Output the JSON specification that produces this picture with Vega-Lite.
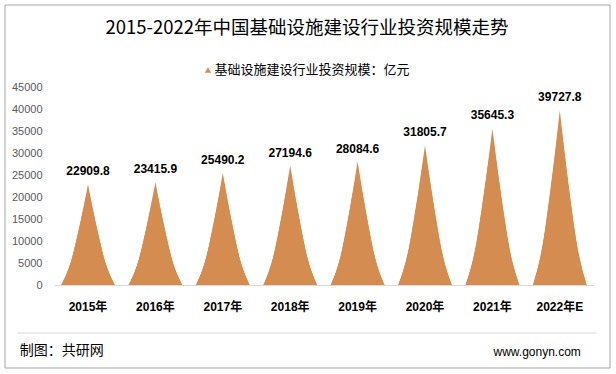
{
  "$schema": "https://vega.github.io/schema/vega-lite/v6.json",
  "width": 605,
  "height": 363,
  "autosize": "none",
  "padding": {"left": 4.5, "top": 4.5, "right": 6.5, "bottom": 6.5},
  "background": "white",
  "config": {
    "view": {"stroke": "#A6A6A6", "strokeWidth": 1},
    "axis": {"grid": false},
    "line": {"interpolate": "linear", "strokeWidth": 0, "stroke": null, "fill": "#D58C50"}
  },
  "title": {
    "text": "2015-2022年中国基础设施建设行业投资规模走势",
    "orient": "top",
    "anchor": "middle",
    "frame": "group",
    "baseline": "alphabetic",
    "offset": -47.5,
    "font": "Noto Sans CJK SC",
    "fontSize": 18.5,
    "fontWeight": "normal",
    "color": "#000000"
  },
  "data": {
    "values": [
      {"year": "2015年", "value": 22909.8},
      {"year": "2016年", "value": 23415.9},
      {"year": "2017年", "value": 25490.2},
      {"year": "2018年", "value": 27194.6},
      {"year": "2019年", "value": 28084.6},
      {"year": "2020年", "value": 31805.7},
      {"year": "2021年", "value": 35645.3},
      {"year": "2022年E", "value": 39727.8}
    ]
  },
  "transform": [
    {"fold": ["value"], "as": ["pt", "v"]},
    {"impute": "v", "key": "pt", "keyvals": ["a", "value", "z"], "groupby": ["year"], "value": 0}
  ],
  "encoding": {
    "x": {
      "field": "year", "type": "ordinal",
      "scale": {"type": "band", "range": [49.8, 589], "paddingInner": 0, "paddingOuter": 0},
      "axis": {
        "orient": "bottom", "offset": -82.5,
        "domainColor": "#D9D9D9", "ticks": false,
        "labelAngle": 0, "labelPadding": 16, "labelFontSize": 12, "labelFontWeight": "bold",
        "labelFont": "Liberation Sans, Noto Sans CJK SC", "labelColor": "#000000",
        "title": "制图：共研网", "titleX": 14.8, "titleY": 65, "titleAlign": "left",
        "titleBaseline": "middle", "titleFontSize": 14, "titleFontWeight": "normal",
        "titleFont": "Noto Sans CJK SC", "titleColor": "#000000"
      }
    }
  },
  "layer": [
    {
      "mark": {"type": "line"},
      "encoding": {
        "xOffset": {"field": "pt", "type": "nominal", "scale": {"type": "point", "domain": ["a", "value", "z"], "range": [6.7, 60.7], "padding": 0}},
        "y": {"field": "v", "type": "quantitative", "stack": null, "scale": {"domain": [0, 90000], "range": [280.5, 82.8], "nice": false}, "axis": null},
        "detail": {"field": "year"},
        "order": {"field": "pt", "type": "ordinal"}
      }
    },
    {
      "mark": {"type": "line"},
      "encoding": {
        "xOffset": {"field": "pt", "type": "nominal", "scale": {"type": "point", "domain": ["a", "value", "z"], "range": [7.24, 60.16], "padding": 0}},
        "y": {"field": "v", "type": "quantitative", "stack": null, "scale": {"domain": [0, 76531], "range": [280.5, 82.8], "nice": false}, "axis": null},
        "detail": {"field": "year"},
        "order": {"field": "pt", "type": "ordinal"}
      }
    },
    {
      "mark": {"type": "line"},
      "encoding": {
        "xOffset": {"field": "pt", "type": "nominal", "scale": {"type": "point", "domain": ["a", "value", "z"], "range": [8.18, 59.22], "padding": 0}},
        "y": {"field": "v", "type": "quantitative", "stack": null, "scale": {"domain": [0, 65502], "range": [280.5, 82.8], "nice": false}, "axis": null},
        "detail": {"field": "year"},
        "order": {"field": "pt", "type": "ordinal"}
      }
    },
    {
      "mark": {"type": "line"},
      "encoding": {
        "xOffset": {"field": "pt", "type": "nominal", "scale": {"type": "point", "domain": ["a", "value", "z"], "range": [9.67, 57.73], "padding": 0}},
        "y": {"field": "v", "type": "quantitative", "stack": null, "scale": {"domain": [0, 55624], "range": [280.5, 82.8], "nice": false}, "axis": null},
        "detail": {"field": "year"},
        "order": {"field": "pt", "type": "ordinal"}
      }
    },
    {
      "mark": {"type": "line"},
      "encoding": {
        "xOffset": {"field": "pt", "type": "nominal", "scale": {"type": "point", "domain": ["a", "value", "z"], "range": [11.29, 56.11], "padding": 0}},
        "y": {"field": "v", "type": "quantitative", "stack": null, "scale": {"domain": [0, 48807], "range": [280.5, 82.8], "nice": false}, "axis": null},
        "detail": {"field": "year"},
        "order": {"field": "pt", "type": "ordinal"}
      }
    },
    {
      "mark": {"type": "line"},
      "encoding": {
        "xOffset": {"field": "pt", "type": "nominal", "scale": {"type": "point", "domain": ["a", "value", "z"], "range": [12.02, 55.38], "padding": 0}},
        "y": {"field": "v", "type": "quantitative", "stack": null, "scale": {"domain": [0, 46680], "range": [280.5, 82.8], "nice": false}, "axis": null},
        "detail": {"field": "year"},
        "order": {"field": "pt", "type": "ordinal"}
      }
    },
    {
      "mark": {"type": "line"},
      "encoding": {
        "xOffset": {"field": "pt", "type": "nominal", "scale": {"type": "point", "domain": ["a", "value", "z"], "range": [13.91, 53.49], "padding": 0}},
        "y": {
          "field": "v", "type": "quantitative", "stack": null,
          "scale": {"domain": [0, 45000], "range": [280.5, 82.8], "nice": false},
          "axis": {
            "orient": "left", "offset": -49.8, "domain": false, "ticks": false, "grid": false,
            "values": [0, 5000, 10000, 15000, 20000, 25000, 30000, 35000, 40000, 45000],
            "format": "d", "labelPadding": 12.3, "labelFontSize": 11, "labelColor": "#595959",
            "labelFont": "Liberation Sans",
            "title": "www.gonyn.com", "titleAngle": 0, "titleX": 438.7, "titleY": 346.5,
            "titleAlign": "left", "titleBaseline": "middle", "titleFontSize": 12,
            "titleFontWeight": "normal", "titleFont": "Liberation Sans", "titleColor": "#000000"
          }
        },
        "detail": {"field": "year"},
        "order": {"field": "pt", "type": "ordinal"},
        "fill": {
          "datum": "基础设施建设行业投资规模：亿元",
          "type": "nominal",
          "scale": {"range": ["#D58C50"]},
          "legend": {
            "orient": "none", "legendX": 197, "legendY": 59, "padding": 0,
            "title": null, "symbolType": "triangle-up", "symbolSize": 40, "symbolStrokeWidth": 0,
            "labelFont": "Noto Sans CJK SC", "labelFontSize": 13, "labelColor": "#000000",
            "labelOffset": 0, "labelLimit": 400
          }
        }
      }
    },
    {
      "transform": [{"filter": "datum.pt === 'value'"}],
      "mark": {
        "type": "text", "baseline": "alphabetic", "dy": -9,
        "font": "Liberation Sans", "fontSize": 12, "fontWeight": "bold", "color": "#000000"
      },
      "encoding": {
        "y": {
          "field": "v", "type": "quantitative", "stack": null,
          "scale": {"domain": [-10766, 45000], "range": [327.8, 82.8], "nice": false, "zero": false},
          "axis": {
            "orient": "left", "offset": -591.5, "values": [-10766], "labels": false,
            "domain": false, "ticks": true, "tickSize": 579.3, "tickColor": "#D9D9D9",
            "tickWidth": 1, "grid": false, "title": null
          }
        },
        "text": {"field": "v", "type": "quantitative", "format": ".1f"}
      }
    }
  ],
  "resolve": {
    "scale": {"y": "independent", "xOffset": "independent"},
    "axis": {"y": "independent"}
  }
}
